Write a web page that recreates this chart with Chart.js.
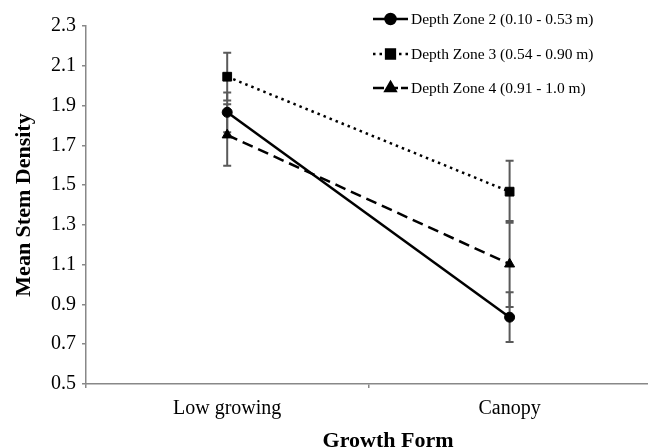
<!DOCTYPE html>
<html>
<head>
<meta charset="utf-8">
<script src="https://cdn.jsdelivr.net/npm/chart.js@4/dist/chart.umd.min.js"></script>
<style>
  html, body { margin: 0; padding: 0; background: #fff; }
  #wrap { width: 648px; height: 448px; position: relative; overflow: hidden; }
</style>
</head>
<body>
<div id="wrap"><canvas id="c" width="658" height="448"></canvas></div>
<script>
// Growth forms on the x axis
const categories = ['Low growing', 'Canopy'];

// Mean stem density per depth zone
const zone2 = [1.866, 0.836];
const zone3 = [2.045, 1.467];
const zone4 = [1.752, 1.103];

// Error bar half-widths (± around each mean)
const zone2Err = [0.10, 0.125];
const zone3Err = [0.12, 0.156];
const zone4Err = [0.155, 0.216];

const seriesLabels = [
  'Depth Zone 2 (0.10 - 0.53 m)',
  'Depth Zone 3 (0.54 - 0.90 m)',
  'Depth Zone 4 (0.91 - 1.0 m)'
];

const yTicks = [0.5, 0.7, 0.9, 1.1, 1.3, 1.5, 1.7, 1.9, 2.1, 2.3];

const xTitle = 'Growth Form';
const yTitle = 'Mean Stem Density';

const serif = "'Liberation Serif', 'DejaVu Serif', serif";

// Vertical error bars with caps, drawn under the lines and markers
const errorBars = {
  id: 'errorBars',
  beforeDatasetsDraw(chart) {
    const { ctx, scales: { x, y } } = chart;
    ctx.save();
    ctx.strokeStyle = '#5a5a5a';
    ctx.lineWidth = 2;
    chart.data.datasets.forEach(ds => {
      ds.data.forEach((v, i) => {
        const e = ds.errors[i];
        const px = x.getPixelForValue(i);
        const top = y.getPixelForValue(v + e);
        const bot = y.getPixelForValue(v - e);
        ctx.beginPath();
        ctx.moveTo(px, top); ctx.lineTo(px, bot);
        ctx.moveTo(px - 4, top); ctx.lineTo(px + 4, top);
        ctx.moveTo(px - 4, bot); ctx.lineTo(px + 4, bot);
        ctx.stroke();
      });
    });
    ctx.restore();
  }
};

// Legend: a short line sample with the marker in its middle, then the label
const lineLegend = {
  id: 'lineLegend',
  afterDraw(chart) {
    const { ctx } = chart;
    const x0 = 373, x1 = 408, tx = 411;
    const rows = [19, 54, 88];
    ctx.save();
    chart.data.datasets.forEach((ds, i) => {
      const yy = rows[i];
      ctx.strokeStyle = '#000';
      ctx.lineWidth = ds.borderWidth;
      ctx.setLineDash(ds.legendDash || ds.borderDash || []);
      ctx.beginPath();
      ctx.moveTo(x0, yy); ctx.lineTo(x1, yy);
      ctx.stroke();
      ctx.setLineDash([]);
      ctx.fillStyle = '#000';
      ctx.strokeStyle = '#000';
      Chart.helpers.drawPoint(ctx, {
        pointStyle: ds.pointStyle,
        radius: ds.pointRadius,
        rotation: 0,
        borderWidth: 1
      }, (x0 + x1) / 2, yy);
      ctx.font = '15.5px ' + serif;
      ctx.textAlign = 'left';
      ctx.textBaseline = 'middle';
      ctx.fillText(ds.label, tx, yy + 1);
    });
    ctx.restore();
  }
};

// Axis title under the category labels
const xAxisTitle = {
  id: 'xAxisTitle',
  afterDraw(chart) {
    const { ctx } = chart;
    ctx.save();
    ctx.fillStyle = '#000';
    ctx.font = 'bold 22px ' + serif;
    ctx.textAlign = 'center';
    ctx.textBaseline = 'middle';
    ctx.fillText(xTitle, 388, 441);
    ctx.restore();
  }
};

const common = {
  borderColor: '#000',
  backgroundColor: '#000',
  pointBackgroundColor: '#000',
  pointBorderColor: '#000',
  pointBorderWidth: 1,
  borderWidth: 2.5,
  tension: 0,
  fill: false
};

new Chart(document.getElementById('c'), {
  type: 'line',
  data: {
    labels: categories,
    datasets: [
      Object.assign({}, common, {
        label: seriesLabels[0], data: zone2, errors: zone2Err,
        pointStyle: 'circle', pointRadius: 5, borderDash: []
      }),
      Object.assign({}, common, {
        label: seriesLabels[1], data: zone3, errors: zone3Err,
        pointStyle: 'rect', pointRadius: 6.2, borderDash: [2.5, 4]
      }),
      Object.assign({}, common, {
        label: seriesLabels[2], data: zone4, errors: zone4Err,
        pointStyle: 'triangle', pointRadius: 5.8, borderDash: [11, 6],
        legendDash: [11, 3]
      })
    ]
  },
  options: {
    responsive: false,
    animation: false,
    layout: { padding: { top: 26, left: 0, right: 3, bottom: 0 } },
    plugins: {
      legend: { display: false },
      tooltip: { enabled: false }
    },
    scales: {
      x: {
        type: 'category',
        offset: true,
        afterFit(scale) { scale.height = 64; },
        border: { display: true, color: '#888', width: 1.5 },
        grid: { display: true, drawOnChartArea: false, offset: true, color: '#888', tickLength: 4, lineWidth: 1.5 },
        ticks: { color: '#000', font: { family: serif, size: 20 }, padding: 9 }
      },
      y: {
        min: 0.5, max: 2.3,
        afterBuildTicks(scale) { scale.ticks = yTicks.map(v => ({ value: v })); },
        afterFit(scale) { scale.width = 86; },
        border: { display: true, color: '#888', width: 1.5 },
        grid: { display: true, drawOnChartArea: false, color: '#888', tickLength: 4, lineWidth: 1.5 },
        ticks: {
          color: '#000', font: { family: serif, size: 20 }, padding: 6,
          callback: v => Number(v).toFixed(1)
        },
        title: {
          display: true, text: yTitle, color: '#000',
          font: { family: serif, size: 22, weight: 'bold' }, padding: { top: 11, bottom: 0 }
        }
      }
    }
  },
  plugins: [errorBars, lineLegend, xAxisTitle]
});
</script>
</body>
</html>
